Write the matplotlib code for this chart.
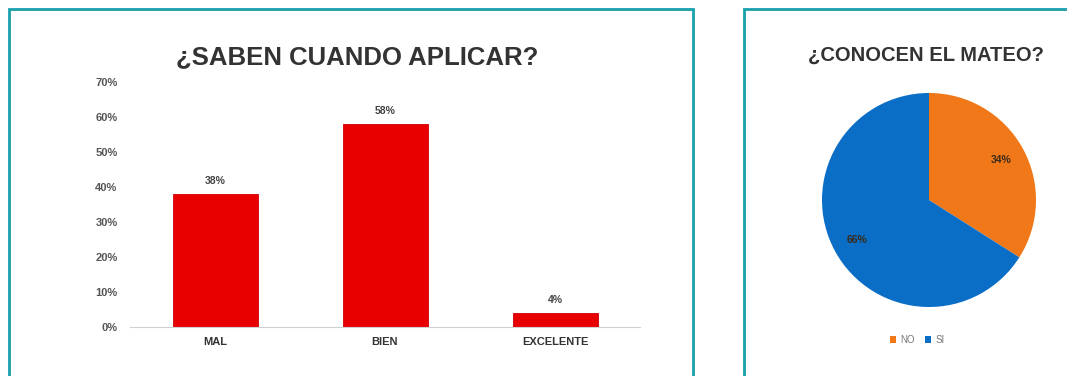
import matplotlib
matplotlib.use("Agg")
import matplotlib.pyplot as plt
from matplotlib.patches import Rectangle

plt.rcParams['font.family'] = ['Liberation Sans', 'DejaVu Sans']

# Bar chart data
bar_categories = ["MAL", "BIEN", "EXCELENTE"]
bar_values = [0.38, 0.58, 0.04]
bar_labels = ["38%", "58%", "4%"]
y_ticks = [0.0, 0.1, 0.2, 0.3, 0.4, 0.5, 0.6, 0.7]
y_tick_labels = ["0%", "10%", "20%", "30%", "40%", "50%", "60%", "70%"]

# Pie chart data
pie_labels = ["NO", "SI"]
pie_values = [34, 66]

W, H = 1067, 376
fig = plt.figure(figsize=(W / 100, H / 100), dpi=100)
fig.patch.set_facecolor("white")

def fx(px):
    return px / W

def fy(py):
    return 1 - py / H

teal = "#1aa0ad"
fig.patches.append(Rectangle((fx(9), fy(390)), fx(684), (390 - 9) / H,
                             transform=fig.transFigure, fill=False,
                             edgecolor=teal, linewidth=2.0))
fig.patches.append(Rectangle((fx(744), fy(390)), fx(340), (390 - 9) / H,
                             transform=fig.transFigure, fill=False,
                             edgecolor=teal, linewidth=2.0))

# Bar chart
ax = fig.add_axes([fx(130), fy(327), fx(640) - fx(130), (327 - 82) / H])
x = range(len(bar_categories))
ax.bar(x, bar_values, width=0.5, color="#e80000", edgecolor="#d00000", linewidth=0.6)
ax.set_xlim(-0.5, len(bar_categories) - 0.5)
ax.set_ylim(0, 0.7)
ax.set_yticks(y_ticks)
ax.set_yticklabels(y_tick_labels, fontsize=8, fontweight="bold", color="#555555")
ax.set_xticks(list(x))
ax.set_xticklabels(bar_categories, fontsize=8, fontweight="bold", color="#333333")
ax.tick_params(axis="both", length=0)
ax.tick_params(axis="y", pad=9)
ax.tick_params(axis="x", pad=7)
for side in ["top", "right", "left"]:
    ax.spines[side].set_visible(False)
ax.spines["bottom"].set_color("#d0d0d0")
ax.spines["bottom"].set_linewidth(0.8)
for xi, v, lab in zip(x, bar_values, bar_labels):
    ax.annotate(lab, (xi, v), xytext=(0, 6), textcoords="offset points",
                ha="center", va="bottom", fontsize=7.5, fontweight="bold", color="#444444")

fig.text(fx(357), fy(57), "¿SABEN CUANDO APLICAR?", ha="center", va="center",
         fontsize=18.5, fontweight="bold", color="#333333")

# Pie chart
pax = fig.add_axes([fx(822), fy(307), fx(214), 214 / H])
wedges, _, autotexts = pax.pie(pie_values, colors=["#f07818", "#0a6ec6"], startangle=90,
                               counterclock=False, autopct="%1.0f%%", pctdistance=0.77,
                               textprops=dict(fontsize=7.5, fontweight="bold", color="#3a2a1a"))
pax.set_xlim(-1, 1)
pax.set_ylim(-1, 1)
pax.set_aspect("auto")

fig.text(fx(926), fy(55), "¿CONOCEN EL MATEO?", ha="center", va="center",
         fontsize=14.5, fontweight="bold", color="#333333")

leg = fig.legend(wedges, pie_labels, loc="center", bbox_to_anchor=(fx(917), fy(340)),
                 ncol=2, frameon=False, fontsize=7, handlelength=0.7, handleheight=0.7,
                 handletextpad=0.4, columnspacing=1.0)
for t in leg.get_texts():
    t.set_color("#777777")

fig.savefig("out.png", dpi=100, facecolor="white")
